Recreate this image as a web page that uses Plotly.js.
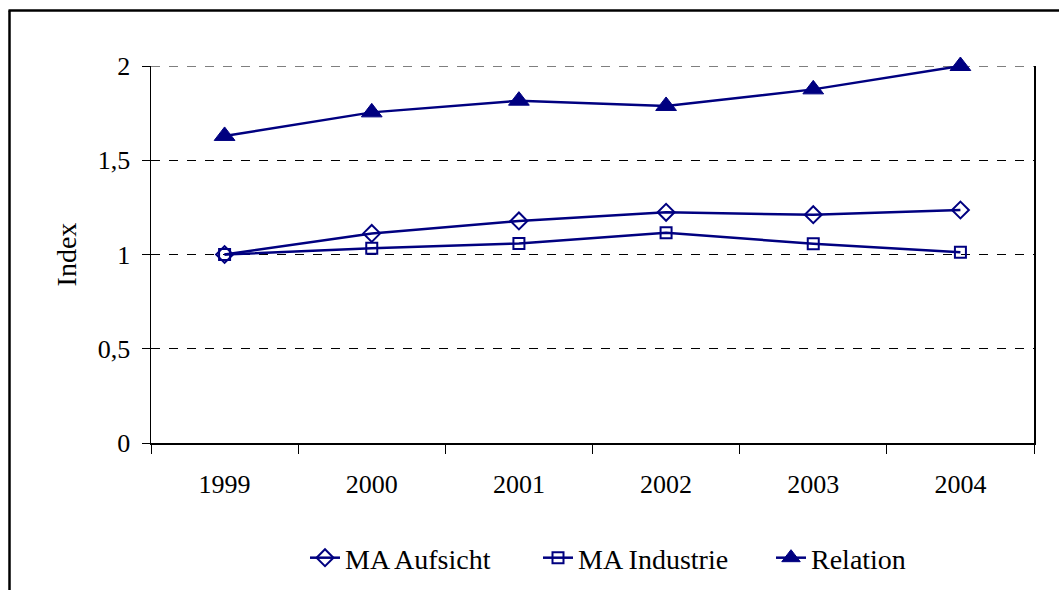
<!DOCTYPE html>
<html>
<head>
<meta charset="utf-8">
<script src="https://cdn.plot.ly/plotly-3.0.1.min.js"></script>
<style>
html,body{margin:0;padding:0;background:#fff;overflow:hidden;}
#chart{width:1059px;height:590px;}
</style>
</head>
<body>
<div id="chart"></div>
<script>
const years = ['1999','2000','2001','2002','2003','2004'];
const maAufsicht = [1.0, 1.112, 1.178, 1.224, 1.211, 1.236];
const maIndustrie = [1.0, 1.033, 1.059, 1.116, 1.057, 1.012];
const relation = [1.629, 1.754, 1.816, 1.788, 1.876, 2.0];
const seriesNames = ['MA Aufsicht', 'MA Industrie', 'Relation'];
const yTickVals = [0, 0.5, 1, 1.5, 2];

const navy = '#000080';
const ff = '"Liberation Serif", "Times New Roman", serif';
const tickFont = {family: ff, size: 26, color: '#000'};
const legendFont = {family: ff, size: 28, color: '#000'};
const titleFont = {family: ff, size: 28, color: '#000'};

const traces = [
  {x: years, y: maAufsicht, name: seriesNames[0], type: 'scatter', mode: 'lines+markers', cliponaxis: false,
   line: {color: navy, width: 2.5},
   marker: {symbol: 'diamond-open', size: 13, color: navy, line: {color: navy, width: 2}}},
  {x: years, y: maIndustrie, name: seriesNames[1], type: 'scatter', mode: 'lines+markers', cliponaxis: false,
   line: {color: navy, width: 2.5},
   marker: {symbol: 'square-open', size: 11, color: navy, line: {color: navy, width: 2}}},
  {x: years, y: relation, name: seriesNames[2], type: 'scatter', mode: 'lines+markers', cliponaxis: false,
   line: {color: navy, width: 2.5},
   marker: {symbol: 'triangle-up', size: 18, color: navy, line: {color: navy, width: 1}}},
  {x: years, y: relation, yaxis: 'y2', type: 'scatter', mode: 'none', showlegend: false, hoverinfo: 'skip'}
];

const layout = {
  width: 1059, height: 590,
  margin: {l: 151, r: 25, t: 66, b: 147, autoexpand: false},
  paper_bgcolor: '#fff', plot_bgcolor: '#fff',
  font: tickFont,
  separators: ',.',
  showlegend: true,
  xaxis: {
    type: 'category', range: [-0.5, 5.5],
    tickson: 'boundaries', ticks: 'outside', ticklen: 9, tickwidth: 1, tickcolor: '#000',
    showline: true, linecolor: '#000', linewidth: 1.5, mirror: false,
    showgrid: false, zeroline: false,
    ticklabelstandoff: 17,
    tickfont: tickFont, fixedrange: true, automargin: false
  },
  yaxis: {
    range: [0, 2], tickvals: yTickVals, ticks: 'outside', ticklen: 8, tickwidth: 1, tickcolor: '#000',
    showline: true, linecolor: '#000', linewidth: 1.5, mirror: true,
    showgrid: true, gridcolor: '#000', gridwidth: 1, griddash: 'dash',
    zeroline: false, ticklabelstandoff: 6,
    tickfont: tickFont,
    title: {text: 'Index', font: titleFont, standoff: 13},
    automargin: false, fixedrange: true
  },
  yaxis2: {
    range: [0, 2], tickvals: yTickVals, overlaying: 'y', side: 'left',
    ticks: 'inside', ticklen: 8, tickwidth: 1, tickcolor: '#000',
    showticklabels: false, showgrid: false, zeroline: false, showline: false,
    fixedrange: true
  },
  legend: {
    orientation: 'h', x: (305 - 151) / 883, xanchor: 'left', y: -0.305, yanchor: 'middle',
    font: legendFont, bgcolor: 'rgba(0,0,0,0)', itemwidth: 30, tracegroupgap: 0,
    entrywidth: 188, entrywidthmode: 'pixels'
  },
  shapes: [
    {type: 'line', xref: 'paper', yref: 'y', x0: 0, x1: 1, y0: 2, y1: 2,
     line: {color: '#000', width: 1, dash: 'dash'}, layer: 'below'},
    {type: 'line', xref: 'paper', yref: 'paper',
     x0: (9.5 - 151) / 883, x1: (9.5 - 151) / 883, y0: -0.5, y1: 1 + (66 - 10.5) / 377,
     line: {color: '#000', width: 2.5}},
    {type: 'line', xref: 'paper', yref: 'paper',
     x0: (8.5 - 151) / 883, x1: 1.1, y0: 1 + (66 - 10.5) / 377, y1: 1 + (66 - 10.5) / 377,
     line: {color: '#000', width: 2.5}}
  ]
};

Plotly.newPlot('chart', traces, layout, {displayModeBar: false, staticPlot: true});
</script>
</body>
</html>
